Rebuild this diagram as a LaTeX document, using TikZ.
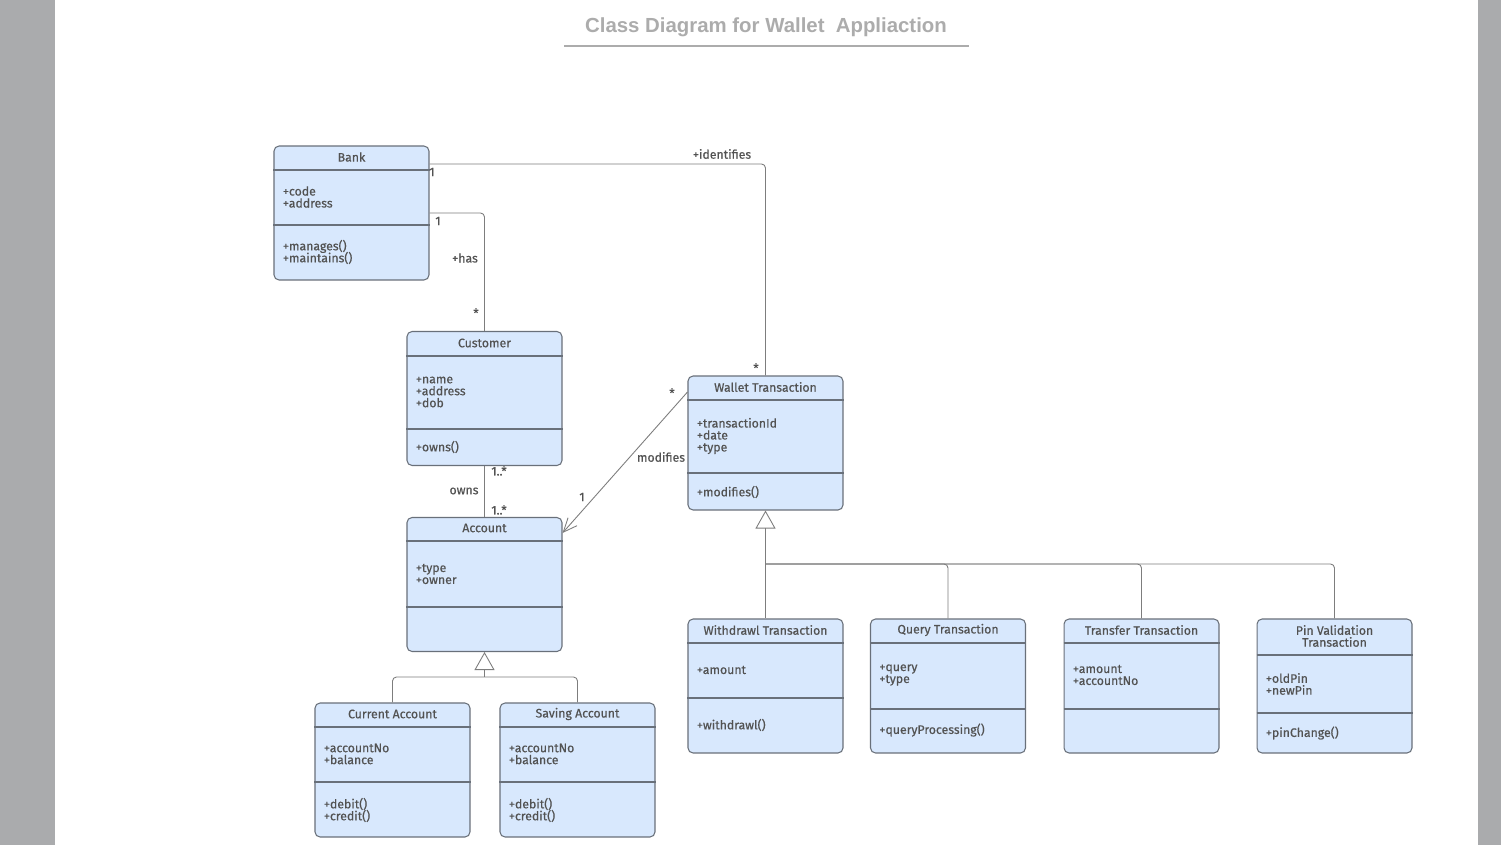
\documentclass[tikz,border=0pt]{standalone}
\usepackage{fontspec}
\setmainfont{Fira Sans}
\newfontfamily\boxfont{Fira Sans}[FakeBold=0.5]
\newfontfamily\titlefont{Liberation Sans}
\usetikzlibrary{arrows.meta}

\newcommand\clstext{\boxfont\fontsize{7}{6.8}\selectfont\lineskiplimit-5pt\relax}

\definecolor{clsfill}{RGB}{216,232,253}
\definecolor{clsline}{RGB}{105,112,122}
\definecolor{txt}{RGB}{82,82,82}
\definecolor{wire}{RGB}{125,125,125}
\definecolor{pageedge}{RGB}{170,171,173}
\definecolor{titlegrey}{RGB}{172,172,172}

\begin{document}
\begin{tikzpicture}[
            x=0.02cm, y=-0.02cm,
            cls/.style={draw=clsline, fill=clsfill, rounded corners=0.1cm, line width=0.6pt,
                        minimum width=3.1cm, minimum height=2.68cm, inner sep=0pt},
            div/.style={draw=clsline, line width=0.6pt},
            hd/.style={font=\clstext, text=txt, inner sep=0pt, align=center},
            attr/.style={font=\clstext, text=txt, inner sep=0pt,
                         anchor=west, align=left, xshift=0.18cm},
            wire/.style={draw=wire, line width=0.5pt, rounded corners=0.08cm},
            gen/.style={wire, -{Triangle[open, length=0.36cm, width=0.4cm]}},
            lab/.style={font=\clstext, text=txt, inner sep=0pt}
        ]

        % page
        \useasboundingbox (0,0) rectangle (1501,845);
        \fill[white] (0,0) rectangle (1501,845);
        \fill[pageedge] (0,0) rectangle (55,845);
        \fill[pageedge] (1478,0) rectangle (1501,845);

        % title
        \node[font=\titlefont\bfseries\fontsize{11.6}{14}\selectfont, text=titlegrey] (title) at (766,27)
            {Class Diagram for Wallet\ \ Appliaction};
        \draw[titlegrey, line width=1.1pt] (564,46) -- (969,46);

        % classes
        \node[cls] (bank)      at (351.5,213)  {};
        \node[cls] (customer)  at (484.5,398.5) {};
        \node[cls] (account)   at (484.5,584.5) {};
        \node[cls] (wallet)    at (765.5,443)  {};
        \node[cls] (current)   at (392.5,770)  {};
        \node[cls] (saving)    at (577.5,770)  {};
        \node[cls] (withdrawl) at (765.5,686)  {};
        \node[cls] (query)     at (948,686)    {};
        \node[cls] (transfer)  at (1141.5,686) {};
        \node[cls] (pin)       at (1334.5,686) {};

        % compartments
        \draw[div] (bank.west |- 0,170) -- (bank.east |- 0,170);
        \draw[div] (bank.west |- 0,225) -- (bank.east |- 0,225);
        \draw[div] (customer.west |- 0,356) -- (customer.east |- 0,356);
        \draw[div] (customer.west |- 0,429) -- (customer.east |- 0,429);
        \draw[div] (account.west |- 0,541) -- (account.east |- 0,541);
        \draw[div] (account.west |- 0,607) -- (account.east |- 0,607);
        \draw[div] (wallet.west |- 0,400) -- (wallet.east |- 0,400);
        \draw[div] (wallet.west |- 0,473) -- (wallet.east |- 0,473);
        \draw[div] (current.west |- 0,727) -- (current.east |- 0,727);
        \draw[div] (current.west |- 0,782) -- (current.east |- 0,782);
        \draw[div] (saving.west |- 0,727) -- (saving.east |- 0,727);
        \draw[div] (saving.west |- 0,782) -- (saving.east |- 0,782);
        \draw[div] (withdrawl.west |- 0,643) -- (withdrawl.east |- 0,643);
        \draw[div] (withdrawl.west |- 0,698) -- (withdrawl.east |- 0,698);
        \draw[div] (query.west |- 0,643) -- (query.east |- 0,643);
        \draw[div] (query.west |- 0,709) -- (query.east |- 0,709);
        \draw[div] (transfer.west |- 0,643) -- (transfer.east |- 0,643);
        \draw[div] (transfer.west |- 0,709) -- (transfer.east |- 0,709);
        \draw[div] (pin.west |- 0,655) -- (pin.east |- 0,655);
        \draw[div] (pin.west |- 0,713) -- (pin.east |- 0,713);

        % class texts
        \node[hd]   (bankname)  at (bank.north |- 0,157)   {Bank};
        \node[attr] (bankattr)  at (bank.west |- 0,197)    {+code\\+address};
        \node[attr] (bankops)   at (bank.west |- 0,252)    {+manages()\\+maintains()};

        \node[hd]   (custname)  at (customer.north |- 0,343) {Customer};
        \node[attr] (custattr)  at (customer.west |- 0,392)  {+name\\+address\\+dob};
        \node[attr] (custops)   at (customer.west |- 0,447)  {+owns()};

        \node[hd]   (acctname)  at (account.north |- 0,528) {Account};
        \node[attr] (acctattr)  at (account.west |- 0,574)  {+type\\+owner};

        \node[hd]   (wallname)  at (wallet.north |- 0,387) {Wallet Transaction};
        \node[attr] (wallattr)  at (wallet.west |- 0,436)  {+transactionId\\+date\\+type};
        \node[attr] (wallops)   at (wallet.west |- 0,492)  {+modifies()};

        \node[hd]   (curname)   at (current.north |- 0,714) {Current Account};
        \node[attr] (curattr)   at (current.west |- 0,754)  {+accountNo\\+balance};
        \node[attr] (curops)    at (current.west |- 0,810)  {+debit()\\+credit()};

        \node[hd]   (savname)   at (saving.north |- 0,714) {Saving Account};
        \node[attr] (savattr)   at (saving.west |- 0,754)  {+accountNo\\+balance};
        \node[attr] (savops)    at (saving.west |- 0,810)  {+debit()\\+credit()};

        \node[hd]   (wdname)    at (withdrawl.north |- 0,630) {Withdrawl Transaction};
        \node[attr] (wdattr)    at (withdrawl.west |- 0,670)  {+amount};
        \node[attr] (wdops)     at (withdrawl.west |- 0,725)  {+withdrawl()};

        \node[hd]   (qname)     at (query.north |- 0,630) {Query Transaction};
        \node[attr] (qattr)     at (query.west |- 0,675)  {+query\\+type};
        \node[attr] (qops)      at (query.west |- 0,730)  {+queryProcessing()};

        \node[hd]   (trname)    at (transfer.north |- 0,630) {Transfer Transaction};
        \node[attr] (trattr)    at (transfer.west |- 0,675)  {+amount\\+accountNo};

        \node[hd]   (pinname)   at (pin.north |- 0,636) {Pin Validation\\Transaction};
        \node[attr] (pinattr)   at (pin.west |- 0,684)  {+oldPin\\+newPin};
        \node[attr] (pinops)    at (pin.west |- 0,733)  {+pinChange()};

        % associations
        \draw[wire] (bank.east |- 0,164) -| (wallet.north);
        \draw[wire] (bank.east |- 0,213) -| (customer.north);
        \draw[wire] (customer.south) -- (account.north);
        \draw[wire, -{Straight Barb[length=0.28cm, width=0.24cm]}]
            (wallet.west |- 0,392) -- (account.east |- 0,533);

        % generalisations
        \coordinate (acctjoin) at (484.5,677);
        \draw[gen] (acctjoin) -- (account.south);
        \draw[wire] (current.north) |- (acctjoin);
        \draw[wire] (saving.north) |- (acctjoin);

        \coordinate (walljoin) at (765.5,564);
        \draw[gen] (walljoin) -- (wallet.south);
        \draw[wire] (withdrawl.north) -- (walljoin);
        \draw[wire] (query.north) |- (walljoin);
        \draw[wire] (transfer.north) |- (walljoin);
        \draw[wire] (pin.north) |- (walljoin);

        % labels
        \node[lab] (identifies) at (722,154) {+identifies};
        \node[lab] (bankone)    at (432,172) {1};
        \node[lab] (wallstar)   at (756,368) {*};
        \node[lab] (hasone)     at (438,221) {1};
        \node[lab] (has)        at (465,258) {+has};
        \node[lab] (hasstar)    at (476,313) {*};
        \node[lab] (ownsup)     at (499,471) {1..*};
        \node[lab] (owns)       at (464,491) {owns};
        \node[lab] (ownsdown)   at (499,510) {1..*};
        \node[lab] (modstar)    at (672,393) {*};
        \node[lab] (modifies)   at (661,457) {modifies};
        \node[lab] (modone)     at (582,497) {1};
    \end{tikzpicture}
\end{document}
